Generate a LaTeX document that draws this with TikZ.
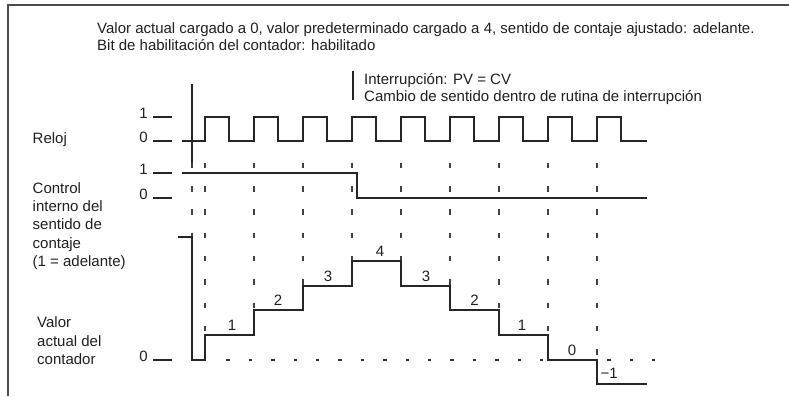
\documentclass[tikz,border=0pt]{standalone}
\usepackage{fontspec}
\setmainfont{Liberation Sans}
\begin{document}
\begin{tikzpicture}[x=1pt,y=-1pt,
  txt/.style={anchor=base west,inner sep=0pt,text=black!88,font=\fontsize{15}{18}\selectfont},
  lvl/.style={anchor=base east,inner sep=0pt,text=black!88,font=\fontsize{15}{18}\selectfont},
  val/.style={anchor=base,inner sep=0pt,text=black!88,font=\fontsize{15}{18}\selectfont},
  wave/.style={draw=black!85,line width=1.2pt},
  tick/.style={draw=black!85,line width=1.2pt},
  vdash/.style={draw=black!75,line width=1.7pt,dash pattern=on 5.5pt off 17.8pt},
  hdash/.style={draw=black!80,line width=1.4pt,dash pattern=on 3.5pt off 18.9pt}]
\useasboundingbox (0,0) rectangle (789,396);
% frame
\draw[draw=black!70,line width=2pt] (8,396) -- (8,5) -- (789,5);
% header
\node[txt] (h1) at (97,34) {Valor actual cargado a 0, valor predeterminado cargado a 4, sentido de contaje ajustado: adelante.};
\node[txt] (h2) at (97,51) {Bit de habilitación del contador: habilitado};
% interrupt note
\draw[tick] (353,71) -- (353,100);
\node[txt] (i1) at (364,84) {Interrupción: PV = CV};
\node[txt] (i2) at (364,101) {Cambio de sentido dentro de rutina de interrupción};
% left labels
\node[txt] (lr) at (32.5,143) {Reloj};
\node[txt] (lc1) at (32.5,193) {Control};
\node[txt] (lc2) at (32.5,211.4) {interno del};
\node[txt] (lc3) at (32.5,229.8) {sentido de};
\node[txt] (lc4) at (32.5,248.2) {contaje};
\node[txt] (lc5) at (32.5,266.6) {(1 = adelante)};
\node[txt] (lv1) at (37,327.5) {Valor};
\node[txt] (lv2) at (37,346) {actual del};
\node[txt] (lv3) at (37,364.5) {contador};
% level marks
\foreach \y/\t [count=\k] in {117/1,141/0,173/1,198/0,360/0}{
  \node[lvl] (lev\k) at (148,\y+1.5) {\t};
  \draw[tick] (153,\y) -- (172,\y);
}
% start line
\draw[tick] (192,84) -- (192,168);
\draw[vdash] (192,162.7) -- (192,237);
% dashed columns
\foreach \x/\e in {205/335,254/310,303/286,352/261,401/261,450/286,499/310,548/335,597/360}{
  \draw[vdash] (\x,162.7) -- (\x,\e);
}
% horizontal dashed zero line
\draw[hdash] (226.3,360) -- (658,360);
% clock
\draw[wave] (182,141) \foreach \i in {0,...,8}{ -- ({205+49*\i},141) -- ({205+49*\i},117) -- ({229+49*\i},117) -- ({229+49*\i},141) } -- (647,141);
% control
\draw[wave] (182,173) -- (357,173) -- (357,198) -- (647,198);
% counter
\draw[wave] (178,237) -- (192,237) -- (192,360) -- (205,360) -- (205,335) -- (254,335) -- (254,310) -- (303,310) -- (303,286) -- (352,286) -- (352,261) -- (401,261) -- (401,286) -- (450,286) -- (450,310) -- (499,310) -- (499,335) -- (548,335) -- (548,360) -- (597,360) -- (597,384) -- (647,384);
% counter values
\node[val] (c1) at (232,330) {1};
\node[val] (c2) at (278,305) {2};
\node[val] (c3) at (328,281) {3};
\node[val] (c4) at (380,256) {4};
\node[val] (c5) at (426,281) {3};
\node[val] (c6) at (474.5,305) {2};
\node[val] (c7) at (522,330) {1};
\node[val] (c8) at (572,355) {0};
\node[txt] (c9) at (600.5,378.5) {−1};
\end{tikzpicture}
\end{document}
